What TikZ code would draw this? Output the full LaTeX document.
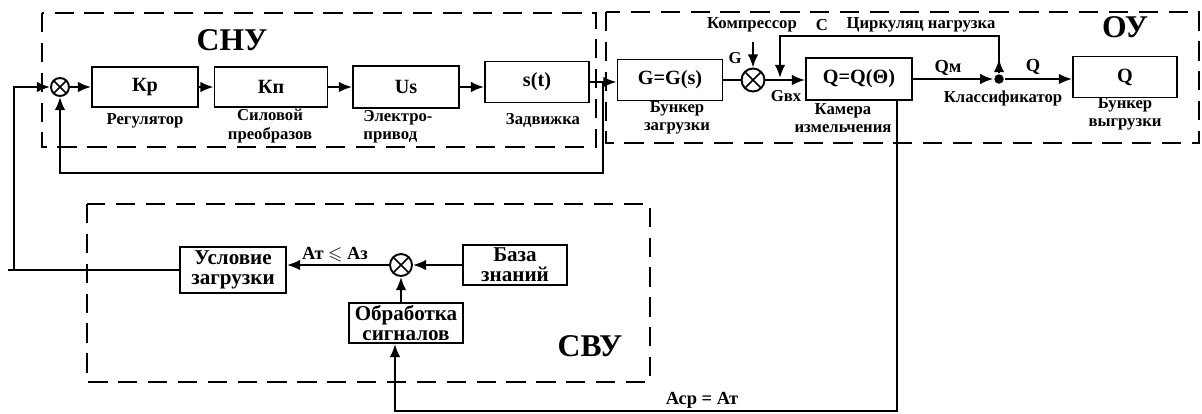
\documentclass[tikz,border=0pt]{standalone}
\usepackage{amssymb}
\usepackage{fontspec}
\setmainfont{Liberation Serif}
\usetikzlibrary{arrows.meta}

\begin{document}
\begin{tikzpicture}[x=0.02cm,y=-0.02cm,>={Latex[length=7.5pt,width=6pt]},line width=1.1pt,
  blok/.style={draw,inner sep=0pt,font=\bfseries\fontsize{11.5}{13}\selectfont},
  blok2/.style={draw,inner sep=0pt,align=center,font=\bfseries\fontsize{12}{11.5}\selectfont},
  summa/.style={draw,circle,inner sep=0pt,minimum size=#1,
    path picture={\draw[line width=0.9pt] (path picture bounding box.north west) -- (path picture bounding box.south east)
      (path picture bounding box.south west) -- (path picture bounding box.north east);}},
  tochka/.style={circle,fill,inner sep=0pt,minimum size=0.19cm},
  podp/.style={align=center,font=\bfseries\fontsize{9.5}{10.5}\selectfont},
  titul/.style={font=\bfseries\fontsize{18}{19}\selectfont},
  ramka/.style={dash pattern=on 11pt off 6pt}]
\useasboundingbox (0,0) rectangle (1202,413);

% контуры
\draw[ramka] (42,13) rectangle (596,147);
\draw[ramka] (606,12) rectangle (1199,143);
\draw[ramka] (87,204) rectangle (650,382);
\node[titul] (snu) at (232,40) {СНУ};
\node[titul] (ou) at (1125,27) {ОУ};
\node[titul] (svu) at (590,346) {СВУ};

% СНУ
\node[summa=0.36cm] (j1) at (60,87) {};
\node[blok,minimum width=2.12cm,minimum height=0.8cm] (kr) at (145,87) {Кр};
\node[blok,minimum width=2.26cm,minimum height=0.8cm] (kp) at (271,87) {Кп};
\node[blok,minimum width=2.12cm,minimum height=0.84cm] (us) at (406,87) {Us};
\node[blok,minimum width=2.08cm,minimum height=0.82cm] (st) at (537,82) {s(t)};
\node[podp] (reg) at (145,121) {Регулятор};
\node[podp] (sil) at (270,126) {Силовой\\преобразов};
\node[podp,align=left] (elp) at (398,127) {Электро-\\привод};
\node[podp] (zad) at (543,120) {Задвижка};

% ОУ
\node[blok,minimum width=2.1cm,minimum height=0.82cm] (gs) at (670,80) {G=G(s)};
\node[summa=0.46cm] (j2) at (753,80) {};
\node[blok,minimum width=2.12cm,minimum height=0.84cm] (qq) at (859,79) {Q=Q(Θ)};
\node[tochka] (dot) at (999,79) {};
\node[blok,minimum width=2.08cm,minimum height=0.82cm] (qb) at (1125,77) {Q};
\node[podp] (bz) at (677,118) {Бункер\\загрузки};
\node[podp] (kam) at (843,118) {Камера\\измельчения};
\node[podp] (kl) at (1003,98) {Классификатор};
\node[podp] (bv) at (1125,114) {Бункер\\выгрузки};
\node[podp] (komptxt) at (752,25) {Компрессор};
\node[podp] (ctxt) at (822,25) {С};
\node[podp] (cirk) at (921,25) {Циркуляц нагрузка};
\node[podp] (gtxt) at (735,58) {G};
\node[podp] (gvxtxt) at (786,96) {Gвх};
\node[podp,font=\bfseries\fontsize{10.5}{11}\selectfont] (qmtxt) at (948,68) {Qм};
\node[podp,font=\bfseries\fontsize{10.5}{11}\selectfont] (qtxt) at (1033,67) {Q};

% СВУ
\node[blok2,minimum width=2.12cm,minimum height=0.92cm] (usl) at (233,270) {Условие\\загрузки};
\node[summa=0.44cm] (j3) at (401,265) {};
\node[blok2,minimum width=2.08cm,minimum height=0.8cm] (baza) at (515,265) {База\\знаний};
\node[blok2,minimum width=2.28cm,minimum height=0.8cm] (obr) at (406,323) {Обработка\\сигналов};
\node[podp,font=\bfseries\fontsize{10.5}{11}\selectfont] (attxt) at (335,255) {Ат $\leqslant$ Аз};
\node[podp,font=\bfseries\fontsize{10.5}{11}\selectfont] (acptxt) at (702,400) {Аср = Ат};

\coordinate (inA) at (8,270);
\coordinate (inB) at (14,270);
\coordinate (fb) at (603,82);
\coordinate (fbc) at (603,173);
\coordinate (komp) at (753,42);
\coordinate (cB) at (780,36);
\coordinate (gvx) at (780,78);
\coordinate (acp) at (395,411);

% связи
\draw (usl.west) -- (inA);
\draw[->] (inB) |- (j1);
\draw[->] (j1) -- (kr);
\draw[->] (kr) -- (kp);
\draw[->] (kp) -- (us);
\draw[->] (us.east) -- (us.east -| st.west);
\draw[->] (st.east) -- (st.east -| gs.west);
\draw[->] (fb) -- (fbc) -| (j1);
\draw (gs) -- (j2);
\draw[->] (komp) -- (j2);
\draw[->] (j2) -- (j2 -| qq.west);
\draw[->] (qq) -- (dot);
\draw[->] (dot) -- (dot -| qb.west);
\draw[->] (dot) |- (cB) -- (gvx);
\draw[->] (dot) -- ++(0,-20);
\draw[->] (qq.-30) |- (acp) -- (acp |- obr.south);
\draw[->] (baza) -- (j3);
\draw[->] (obr.north -| j3) -- (j3);
\draw[->] (j3) -- (j3 -| usl.east);
\end{tikzpicture}
\end{document}
